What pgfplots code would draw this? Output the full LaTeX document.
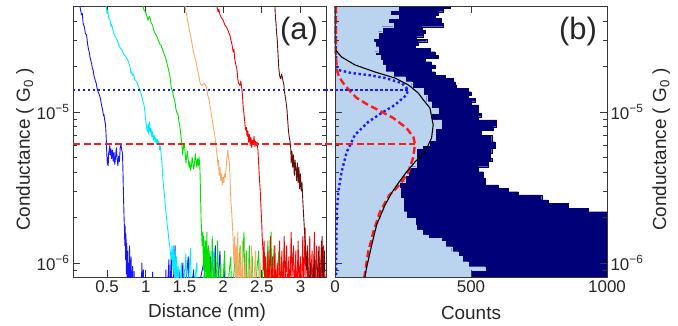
\documentclass[border=0pt]{standalone}
\usepackage{fontspec}
\setmainfont{Liberation Sans}
\usepackage{pgfplots}
\usepackage{pgfplotstable}
\pgfplotsset{compat=1.18}

\definecolor{trBlue}{RGB}{20,20,255}
\definecolor{trCyan}{RGB}{0,235,255}
\definecolor{trGreen}{RGB}{0,225,0}
\definecolor{trOrange}{RGB}{250,170,100}
\definecolor{trRed}{RGB}{255,0,0}
\definecolor{trBrown}{RGB}{100,15,10}
\definecolor{histNavy}{RGB}{0,0,120}
\definecolor{histLight}{RGB}{186,212,240}
\definecolor{lnBlue}{RGB}{25,25,255}
\definecolor{lnRed}{RGB}{255,25,25}
\definecolor{frameC}{RGB}{55,55,55}

% navy histogram: lower bin edge (G0), counts
\pgfplotstableread{
g c
8.07e-7 1000
2.186e-6 931
2.303e-6 858
2.485e-6 784
2.613e-6 760
2.820e-6 674
2.966e-6 637
3.124e-6 600
3.285e-6 551
3.64e-6 545
4.02e-6 527
4.34e-6 564
4.69e-6 576
4.94e-6 570
5.33e-6 576
5.75e-6 588
6.36e-6 576
7.04e-6 539
7.60e-6 582
7.99e-6 594
8.85e-6 527
9.31e-6 539
9.80e-6 527
1.113e-5 502
1.170e-5 515
1.232e-5 490
1.296e-5 500
1.363e-5 490
1.435e-5 447
1.510e-5 441
1.587e-5 435
1.672e-5 404
1.758e-5 368
1.849e-5 355
1.947e-5 368
2.048e-5 355
2.153e-5 331
2.268e-5 380
2.384e-5 368
2.507e-5 349
2.641e-5 294
2.778e-5 306
2.921e-5 337
3.030e-5 300
3.152e-5 325
3.320e-5 331
3.492e-5 319
3.672e-5 398
3.868e-5 392
4.174e-5 368
4.389e-5 380
4.616e-5 398
4.861e-5 423
5.035e-5 0
}\histall

% light blue histogram
\pgfplotstableread{
g c
8.07e-7 502
8.99e-7 551
9.45e-7 490
1.020e-6 466
1.101e-6 453
1.188e-6 429
1.282e-6 404
1.384e-6 392
1.457e-6 343
1.532e-6 319
1.654e-6 300
1.785e-6 294
1.977e-6 263
2.186e-6 251
2.422e-6 250
2.683e-6 240
3.124e-6 235
3.455e-6 257
3.826e-6 270
4.34e-6 300
5.75e-6 319
6.045e-6 345
6.525e-6 368
7.83e-6 392
8.85e-6 355
9.80e-6 380
1.058e-5 355
1.170e-5 337
1.296e-5 325
1.435e-5 282
1.587e-5 257
1.713e-5 214
1.849e-5 184
2.048e-5 172
2.210e-5 165
2.384e-5 147
2.507e-5 159
2.707e-5 147
2.921e-5 141
3.077e-5 159
3.402e-5 172
3.672e-5 214
3.868e-5 196
4.174e-5 233
4.389e-5 202
4.737e-5 233
5.035e-5 0
}\histsel

\begin{document}
\begin{tikzpicture}
\path[use as bounding box] (0,0) rectangle (678bp,326bp);

% ---------------- panel (a) ----------------
\begin{axis}[at={(73bp,49bp)}, anchor=south west,
  scale only axis, width=253bp, height=271bp,
  ymode=log, ymin=8.07e-7, ymax=5.035e-5,
  ytick={1e-6,1e-5},
  minor ytick={9e-7,2e-6,3e-6,4e-6,5e-6,6e-6,7e-6,8e-6,9e-6,2e-5,3e-5,4e-5,5e-5},
  yticklabels={10\textsuperscript{−6},10\textsuperscript{−5}},
  xmin=0.06, xmax=3.33,
  xtick={0.5,1,1.5,2,2.5,3}, xticklabels={0.5,1,1.5,2,2.5,3},
  xtick pos=both, ytick pos=both, yticklabel pos=left,
  tick align=inside,
  major tick length=7bp, minor tick length=4bp,
  major tick style={frameC, line width=0.7bp},
  minor tick style={frameC, line width=0.6bp},
  axis line style={frameC, line width=0.9bp},
  ticklabel style={font=\fontsize{17}{19}\selectfont, text=black!85},
  label style={font=\fontsize{19}{22}\selectfont, text=black!85},
  xlabel={Distance (nm)},
  ylabel={Conductance ( G\textsubscript{0} )},
  xlabel style={at={(axis description cs:0.53,-0.131)}, anchor=center},
  ylabel style={at={(axis description cs:-0.19,0.47)}, anchor=center},
]
% blue trace
\addplot[trBlue, line width=0.9bp, line join=round] coordinates {
(0.13,5.6e-5)(0.15,5.0e-5)(0.17,4.4e-5)(0.18,4.5e-5)(0.19,3.9e-5)(0.21,3.6e-5)(0.22,3.3e-5)(0.235,3.25e-5)(0.25,2.8e-5)(0.26,2.6e-5)(0.27,2.5e-5)(0.28,2.3e-5)(0.30,2.1e-5)(0.31,1.95e-5)(0.32,1.9e-5)(0.33,1.75e-5)(0.35,1.6e-5)(0.36,1.55e-5)(0.37,1.45e-5)(0.38,1.38e-5)(0.40,1.3e-5)(0.41,1.25e-5)(0.42,1.18e-5)(0.43,1.1e-5)(0.44,1.05e-5)(0.45,9.8e-6)(0.455,9.4e-6)(0.46,9.6e-6)(0.47,8.8e-6)(0.48,8.3e-6)(0.485,7.5e-6)(0.49,6.6e-6)(0.495,5.6e-6)(0.50,4.9e-6)(0.505,4.5e-6)(0.51,5.0e-6)(0.515,4.4e-6)(0.52,5.3e-6)(0.53,5.6e-6)(0.535,6.0e-6)(0.54,5.2e-6)(0.55,5.7e-6)(0.56,4.9e-6)(0.57,5.6e-6)(0.58,4.7e-6)(0.59,5.4e-6)(0.60,4.5e-6)(0.61,5.0e-6)(0.62,5.8e-6)(0.63,4.9e-6)(0.64,4.4e-6)(0.65,5.1e-6)(0.66,4.7e-6)(0.67,5.8e-6)(0.68,6.1e-6)(0.69,5.6e-6)(0.70,5.3e-6)(0.705,4.2e-6)(0.71,3.2e-6)(0.715,2.5e-6)(0.72,2.0e-6)(0.725,1.7e-6)(0.73,1.3e-6)(0.735,1.75e-6)(0.74,1.05e-6)(0.745,1.55e-6)(0.75,8.5e-7)(0.755,1.35e-6)(0.76,7.5e-7)(0.765,1.2e-6)(0.77,6.5e-7)(0.775,1.0e-6)(0.78,6e-7)
(0.79,1.3e-6)(0.80,7e-7)(0.81,1.1e-6)(0.82,6e-7)(0.83,9.5e-7)(0.84,5e-7)(0.85,8.8e-7)(0.86,5e-7)(0.94,5e-7)(0.95,1.0e-6)(0.96,6e-7)(0.97,9e-7)(0.98,5e-7)(1.08,5e-7)(1.09,8.7e-7)(1.10,5e-7)(1.25,5e-7)(1.26,9e-7)(1.27,5e-7)(1.30,1.05e-6)(1.31,6e-7)(1.33,1.1e-6)(1.34,5e-7)(1.38,1.3e-6)(1.39,5e-7)(1.43,9e-7)(1.44,5e-7)(1.48,1.0e-6)(1.49,5e-7)(1.55,1.1e-6)(1.56,5e-7)(1.62,9e-7)(1.63,5e-7)(1.78,1.2e-6)(1.79,5e-7)(1.84,1.1e-6)(1.85,5e-7)(1.90,1.3e-6)(1.91,5e-7)(1.96,1.2e-6)(1.97,5e-7)(2.02,9e-7)(2.03,5e-7)
};
% cyan trace
\addplot[trCyan, line width=0.9bp, line join=round] coordinates {
(0.47,5.6e-5)(0.49,5.0e-5)(0.50,4.5e-5)(0.51,4.7e-5)(0.52,4.2e-5)(0.54,4.06e-5)(0.55,3.7e-5)(0.56,3.8e-5)(0.58,3.4e-5)(0.60,3.2e-5)(0.63,3.0e-5)(0.65,2.8e-5)(0.67,2.65e-5)(0.69,2.6e-5)(0.71,2.45e-5)(0.73,2.35e-5)(0.75,2.3e-5)(0.77,2.2e-5)(0.79,2.05e-5)(0.80,1.95e-5)(0.81,1.8e-5)(0.82,1.85e-5)(0.83,1.75e-5)(0.84,1.78e-5)(0.86,1.63e-5)(0.88,1.6e-5)(0.90,1.5e-5)(0.92,1.42e-5)(0.93,1.38e-5)(0.95,1.26e-5)(0.97,1.15e-5)(0.98,1.1e-5)(0.99,9.9e-6)(1.00,8.8e-6)(1.01,8.0e-6)(1.02,7.4e-6)(1.025,7.9e-6)(1.03,8.3e-6)(1.04,7.1e-6)(1.05,8.6e-6)(1.06,7.3e-6)(1.07,7.8e-6)(1.08,6.8e-6)(1.09,7.4e-6)(1.10,6.5e-6)(1.11,7.0e-6)(1.12,6.3e-6)(1.13,6.8e-6)(1.14,6.1e-6)(1.15,6.6e-6)(1.16,6.2e-6)(1.17,6.4e-6)(1.18,5.6e-6)(1.19,5.9e-6)(1.20,5.2e-6)(1.21,4.6e-6)(1.22,3.7e-6)(1.23,3.2e-6)(1.24,2.9e-6)(1.25,2.5e-6)(1.26,2.2e-6)(1.27,1.95e-6)(1.28,1.75e-6)(1.29,1.6e-6)(1.30,1.4e-6)(1.31,1.3e-6)(1.32,1.15e-6)(1.33,1.05e-6)(1.34,1.3e-6)(1.35,9e-7)
(1.36,1.3e-6)(1.37,8e-7)(1.38,1.2e-6)(1.39,7e-7)(1.40,1.1e-6)(1.41,6e-7)(1.42,9.5e-7)(1.43,5e-7)(1.46,1.0e-6)(1.47,5e-7)(1.52,1.15e-6)(1.53,5e-7)(1.58,1.25e-6)(1.59,5e-7)(1.66,1.0e-6)(1.67,5e-7)(1.80,1.1e-6)(1.81,5e-7)(1.88,1.2e-6)(1.89,5e-7)
};
% green trace
\addplot[trGreen, line width=0.9bp, line join=round] coordinates {
(0.94,5.6e-5)(0.965,5.0e-5)(0.98,4.7e-5)(1.00,4.6e-5)(1.02,4.2e-5)(1.03,4.06e-5)(1.045,4.3e-5)(1.055,4.2e-5)(1.07,3.9e-5)(1.09,3.75e-5)(1.10,3.5e-5)(1.12,3.33e-5)(1.14,3.2e-5)(1.16,3.0e-5)(1.185,2.8e-5)(1.20,2.75e-5)(1.22,2.57e-5)(1.24,2.4e-5)(1.255,2.3e-5)(1.275,2.1e-5)(1.29,1.95e-5)(1.30,1.85e-5)(1.31,1.77e-5)(1.32,1.6e-5)(1.33,1.45e-5)(1.35,1.35e-5)(1.36,1.25e-5)(1.375,1.2e-5)(1.39,1.05e-5)(1.40,1.0e-5)(1.41,9.8e-6)(1.42,9.4e-6)(1.43,8.6e-6)(1.44,8.1e-6)(1.45,7.3e-6)(1.46,6.6e-6)(1.47,6.0e-6)(1.475,5.2e-6)(1.48,5.4e-6)(1.49,6.0e-6)(1.50,6.1e-6)(1.51,5.3e-6)(1.52,4.6e-6)(1.53,5.1e-6)(1.54,5.5e-6)(1.55,4.8e-6)(1.56,4.3e-6)(1.57,4.7e-6)(1.58,4.1e-6)(1.59,4.4e-6)(1.60,5.0e-6)(1.61,4.6e-6)(1.62,4.2e-6)(1.63,4.5e-6)(1.64,5.3e-6)(1.65,4.8e-6)(1.66,4.3e-6)(1.67,4.9e-6)(1.68,4.4e-6)(1.69,5.0e-6)(1.70,4.3e-6)(1.705,3.4e-6)(1.71,2.6e-6)(1.715,2.0e-6)(1.72,1.7e-6)(1.725,1.45e-6)(1.73,1.3e-6)
(1.74,1.6e-6)(1.745,9e-7)(1.75,1.5e-6)(1.76,7e-7)(1.77,1.4e-6)(1.78,8e-7)(1.79,1.6e-6)(1.80,6e-7)(1.81,1.3e-6)(1.82,7e-7)(1.83,1.2e-6)(1.84,5e-7)(1.86,1.5e-6)(1.87,6e-7)(1.89,1.1e-6)(1.90,5e-7)(1.93,1.4e-6)(1.94,6e-7)(1.97,1.0e-6)(1.98,5e-7)(2.02,1.2e-6)(2.03,5e-7)(2.10,1.1e-6)(2.11,5e-7)(2.16,1.2e-6)(2.17,5e-7)(2.22,1.3e-6)(2.23,6e-7)(2.27,1.6e-6)(2.28,7e-7)(2.30,1.2e-6)(2.31,5e-7)(2.34,1.3e-6)(2.35,6e-7)(2.38,1.1e-6)(2.39,5e-7)(2.46,1.2e-6)(2.47,5e-7)(2.53,1.1e-6)(2.54,5e-7)(2.58,1.4e-6)(2.59,6e-7)(2.62,1.6e-6)(2.63,7e-7)(2.66,1.3e-6)(2.67,5e-7)(2.72,1.2e-6)(2.73,5e-7)(2.78,1.0e-6)(2.79,5e-7)(2.85,9e-7)(2.86,5e-7)
};
% orange trace
\addplot[trOrange, line width=0.9bp, line join=round] coordinates {
(1.49,5.6e-5)(1.508,5.0e-5)(1.52,4.6e-5)(1.53,4.4e-5)(1.55,3.8e-5)(1.572,3.33e-5)(1.585,3.1e-5)(1.60,2.8e-5)(1.61,2.6e-5)(1.625,2.4e-5)(1.64,2.25e-5)(1.65,2.15e-5)(1.663,1.99e-5)(1.68,1.8e-5)(1.69,1.7e-5)(1.70,1.58e-5)(1.71,1.52e-5)(1.727,1.5e-5)(1.74,1.53e-5)(1.755,1.55e-5)(1.766,1.52e-5)(1.78,1.48e-5)(1.79,1.42e-5)(1.80,1.3e-5)(1.82,1.2e-5)(1.83,1.1e-5)(1.84,1.03e-5)(1.855,9.2e-6)(1.87,8.2e-6)(1.885,7.4e-6)(1.895,6.8e-6)(1.905,6.1e-6)(1.915,5.5e-6)(1.925,5.0e-6)(1.934,4.4e-6)(1.94,4.8e-6)(1.95,3.8e-6)(1.96,4.3e-6)(1.97,3.5e-6)(1.98,3.9e-6)(1.99,3.3e-6)(2.00,3.7e-6)(2.01,3.4e-6)(2.02,3.9e-6)(2.03,3.7e-6)(2.04,4.3e-6)(2.05,5.0e-6)(2.06,5.6e-6)(2.07,5.0e-6)(2.08,4.6e-6)(2.09,3.6e-6)(2.10,2.6e-6)(2.11,2.2e-6)(2.12,1.8e-6)(2.13,1.42e-6)
(2.14,1.0e-6)(2.15,1.5e-6)(2.16,7e-7)(2.17,1.3e-6)(2.18,8e-7)(2.19,1.6e-6)(2.20,6e-7)(2.22,1.2e-6)(2.23,5e-7)(2.25,1.4e-6)(2.26,6e-7)(2.29,1.1e-6)(2.30,5e-7)(2.33,1.0e-6)(2.34,5e-7)(2.37,1.3e-6)(2.38,5e-7)(2.42,1.2e-6)(2.43,5e-7)(2.48,1.0e-6)(2.49,5e-7)
};
% red trace
\addplot[trRed, line width=0.9bp, line join=round] coordinates {
(1.90,5.6e-5)(1.92,5.0e-5)(1.935,4.6e-5)(1.945,4.8e-5)(1.96,4.4e-5)(1.98,4.2e-5)(2.00,4.06e-5)(2.02,3.8e-5)(2.05,3.6e-5)(2.07,3.4e-5)(2.09,3.2e-5)(2.10,3.0e-5)(2.115,2.8e-5)(2.13,2.5e-5)(2.14,2.6e-5)(2.15,2.25e-5)(2.165,2.05e-5)(2.18,1.9e-5)(2.19,1.65e-5)(2.20,1.55e-5)(2.218,1.5e-5)(2.23,1.6e-5)(2.24,1.45e-5)(2.25,1.3e-5)(2.257,1.12e-5)(2.27,9.7e-6)(2.283,8.3e-6)(2.29,7.6e-6)(2.30,7.9e-6)(2.31,6.9e-6)(2.32,7.5e-6)(2.33,6.3e-6)(2.34,7.1e-6)(2.35,6.0e-6)(2.36,6.8e-6)(2.37,5.8e-6)(2.38,6.5e-6)(2.39,6.1e-6)(2.40,6.9e-6)(2.41,5.9e-6)(2.42,6.4e-6)(2.43,6.0e-6)(2.44,6.3e-6)(2.45,5.6e-6)(2.46,4.5e-6)(2.47,3.6e-6)(2.48,3.0e-6)(2.49,2.3e-6)(2.50,1.8e-6)(2.505,1.5e-6)(2.515,1.22e-6)
(2.52,9e-7)(2.53,1.4e-6)(2.54,7e-7)(2.55,1.1e-6)(2.56,5e-7)(2.58,1.2e-6)(2.59,6e-7)(2.61,1.5e-6)(2.62,7e-7)(2.64,1.1e-6)(2.65,5e-7)(2.67,1.3e-6)(2.68,6e-7)(2.70,1.0e-6)(2.71,5e-7)(2.73,1.4e-6)(2.74,6e-7)(2.76,1.2e-6)(2.77,5e-7)(2.79,1.5e-6)(2.80,7e-7)(2.82,1.3e-6)(2.83,6e-7)(2.85,1.1e-6)(2.86,5e-7)(2.88,1.6e-6)(2.89,8e-7)(2.91,1.3e-6)(2.92,6e-7)(2.94,1.2e-6)(2.95,5e-7)(2.97,1.4e-6)(2.98,7e-7)(3.00,1.1e-6)(3.01,5e-7)(3.03,1.5e-6)(3.04,6e-7)(3.06,1.7e-6)(3.07,8e-7)(3.09,1.3e-6)(3.10,6e-7)(3.12,1.5e-6)(3.13,7e-7)(3.15,1.2e-6)(3.16,5e-7)(3.18,1.6e-6)(3.19,7e-7)(3.21,1.3e-6)(3.22,6e-7)(3.24,1.1e-6)(3.25,5e-7)(3.27,1.4e-6)(3.28,6e-7)(3.30,1.3e-6)(3.31,5e-7)(3.34,1.0e-6)
};
% dark brown trace
\addplot[trBrown, line width=0.9bp, line join=round] coordinates {
(2.665,5.6e-5)(2.67,5.0e-5)(2.675,4.4e-5)(2.685,3.8e-5)(2.69,3.4e-5)(2.70,3.0e-5)(2.705,2.7e-5)(2.71,2.4e-5)(2.72,1.95e-5)(2.73,1.75e-5)(2.735,1.7e-5)(2.745,1.66e-5)(2.755,1.78e-5)(2.765,1.7e-5)(2.775,1.6e-5)(2.785,1.52e-5)(2.795,1.35e-5)(2.805,1.25e-5)(2.815,1.15e-5)(2.826,1.03e-5)(2.835,8.8e-6)(2.845,7.5e-6)(2.855,6.8e-6)(2.865,6.4e-6)(2.875,5.7e-6)(2.88,4.6e-6)(2.89,5.5e-6)(2.90,4.3e-6)(2.91,5.2e-6)(2.92,3.8e-6)(2.93,4.8e-6)(2.94,4.2e-6)(2.95,3.5e-6)(2.96,4.6e-6)(2.97,3.4e-6)(2.98,4.3e-6)(2.99,3.1e-6)(3.00,3.9e-6)(3.01,3.0e-6)(3.02,3.4e-6)(3.03,2.6e-6)(3.04,2.1e-6)(3.05,1.7e-6)(3.06,1.4e-6)(3.07,1.15e-6)(3.08,9e-7)
(3.09,1.2e-6)(3.10,6e-7)(3.13,1.0e-6)(3.14,5e-7)(3.18,1.1e-6)(3.19,5e-7)(3.24,1.3e-6)(3.25,6e-7)(3.28,1.5e-6)(3.29,7e-7)(3.31,1.2e-6)(3.32,5e-7)
};
% guide lines
\addplot[lnBlue, line width=2.4bp, dash pattern=on 2.4bp off 2.6bp] coordinates {(0.06,1.40e-5)(3.33,1.40e-5)};
\addplot[lnRed, line width=2.4bp, dash pattern=on 7bp off 3.5bp] coordinates {(0.06,6.15e-6)(3.33,6.15e-6)};
\node[anchor=north east, inner sep=0pt, font=\fontsize{31}{34}\selectfont, text=black!85, xshift=-8bp, yshift=-11bp]
  at (rel axis cs:1,1) {(a)};
\end{axis}

% ---------------- panel (b) ----------------
\begin{axis}[at={(335bp,49bp)}, anchor=south west,
  scale only axis, width=272bp, height=271bp,
  ymode=log, ymin=8.07e-7, ymax=5.035e-5,
  ytick={1e-6,1e-5},
  minor ytick={9e-7,2e-6,3e-6,4e-6,5e-6,6e-6,7e-6,8e-6,9e-6,2e-5,3e-5,4e-5,5e-5},
  yticklabels={10\textsuperscript{−6},10\textsuperscript{−5}},
  xmin=0, xmax=1000,
  xtick={0,500,1000}, xticklabels={0,500,1000},
  xtick pos=both, ytick pos=both, yticklabel pos=right,
  tick align=inside,
  major tick length=7bp, minor tick length=4bp,
  major tick style={frameC, line width=0.7bp},
  minor tick style={frameC, line width=0.6bp},
  axis line style={frameC, line width=0.9bp},
  ticklabel style={font=\fontsize{17}{19}\selectfont, text=black!85},
  label style={font=\fontsize{19}{22}\selectfont, text=black!85},
  clip=false, axis on top,
  xlabel={Counts},
  ylabel={Conductance ( G\textsubscript{0} )},
  xlabel style={at={(axis description cs:0.5,-0.131)}, anchor=center},
  ylabel style={at={(axis description cs:1.199,0.47)}, anchor=center},
]
\addplot[xbar interval, fill=histNavy, draw=histNavy, line width=0.3bp] table[x=c, y=g] {\histall};
\addplot[xbar interval, fill=histLight, draw=histLight, line width=0.3bp] table[x=c, y=g] {\histsel};
% fitted peaks
\addplot[lnBlue, line width=2.4bp, dash pattern=on 2.4bp off 2.6bp] coordinates {
(3,5.035e-5)(3,2.574e-5)(5,2.048e-5)(12,1.897e-5)(60,1.813e-5)(122,1.758e-5)(184,1.680e-5)(245,1.556e-5)(263,1.442e-5)(268,1.398e-5)(263,1.296e-5)(220,1.113e-5)(171,9.85e-6)(122,8.587e-6)(73,7.04e-6)(43,5.432e-6)(24,4.006e-6)(12,2.953e-6)(6,2.078e-6)(4,8.07e-7)
};
\addplot[lnRed, line width=2.4bp, dash pattern=on 7bp off 3.5bp] coordinates {
(3,5.035e-5)(3,3.49e-5)(3,2.574e-5)(5,2.048e-5)(9,1.841e-5)(15,1.705e-5)(30,1.556e-5)(45,1.442e-5)(58,1.357e-5)(80,1.238e-5)(122,1.113e-5)(159,1.031e-5)(214,9.125e-6)(263,7.83e-6)(288,6.83e-6)(294,6.14e-6)(288,5.035e-6)(270,4.006e-6)(245,3.439e-6)(220,3.043e-6)(200,2.820e-6)(165,2.176e-6)(141,1.604e-6)(122,1.183e-6)(108,8.07e-7)
};
\addplot[black, line width=1.1bp] coordinates {
(1,5.035e-5)(1,2.9e-5)(2,2.574e-5)(24,2.313e-5)(74,2.048e-5)(147,1.841e-5)(220,1.680e-5)(270,1.510e-5)(306,1.336e-5)(325,1.201e-5)(349,1.063e-5)(361,8.20e-6)(355,6.73e-6)(331,5.432e-6)(294,4.666e-6)(263,4.006e-6)(233,3.387e-6)(208,2.908e-6)(184,2.422e-6)(153,1.785e-6)(135,1.316e-6)(116,9.27e-7)(110,8.07e-7)
};
% guide lines continued from panel (a)
\addplot[lnBlue, line width=2.4bp, dash pattern=on 2.4bp off 2.6bp] coordinates {(-35,1.40e-5)(268,1.40e-5)};
\addplot[lnRed, line width=2.4bp, dash pattern=on 7bp off 3.5bp] coordinates {(-35,6.15e-6)(294,6.15e-6)};
\node[anchor=north east, inner sep=0pt, font=\fontsize{31}{34}\selectfont, text=black!85, xshift=-10bp, yshift=-11bp]
  at (rel axis cs:1,1) {(b)};
\end{axis}
\end{tikzpicture}
\end{document}
